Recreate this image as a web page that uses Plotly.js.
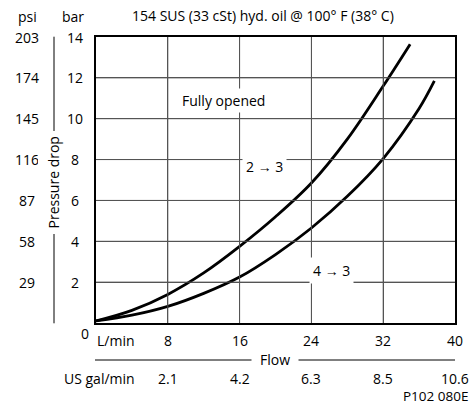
<!DOCTYPE html>
<html>
<head>
<meta charset="utf-8">
<script src="https://cdn.plot.ly/plotly-3.0.1.min.js"></script>
<style>html,body{margin:0;padding:0;background:#fff;}#chart{width:472px;height:404px;}</style>
</head>
<body>
<div id="chart"></div>
<script>
// Flow (L/min) and pressure drop (bar)
const flow23 = [0, 4, 8, 12, 16, 20, 24, 28, 32, 35];
const dp23   = [0.1, 0.62, 1.4, 2.45, 3.75, 5.2, 6.85, 9.0, 11.6, 13.65];
const flow43 = [0, 4, 8, 12, 16, 20, 24, 28, 32, 36, 37.7];
const dp43   = [0.1, 0.38, 0.81, 1.45, 2.25, 3.35, 4.65, 6.2, 8.05, 10.5, 11.85];

const xTicks = [8, 16, 24, 32, 40];
const xTickLabels = ['8', '16', '24', '32', '40'];
const galLabels = ['2.1', '4.2', '6.3', '8.5', '10.6'];
const barTicks = [2, 4, 6, 8, 10, 12, 14];
const psiLabels = ['29', '58', '87', '116', '145', '174', '203'];
const xRange = [0, 40];
const yRange = [0, 14];

const FONT = '"Open Sans", "Noto Sans", sans-serif';
const FS = 14;
const W = 472, H = 404;
const L = 96, R = 455, T = 37, B = 323;
const px = v => (v - L) / (R - L);   // pixel x -> paper x
const py = v => (B - v) / (B - T);   // pixel y -> paper y

const line = {color: '#000', width: 2.8, shape: 'spline', smoothing: 1};
const traces = [
  {x: flow23, y: dp23, mode: 'lines', line: line, hoverinfo: 'skip'},
  {x: flow43, y: dp43, mode: 'lines', line: line, hoverinfo: 'skip'}
];

const ann = [];
const txt = (text, x, y, xref, yref, extra) => Object.assign({
  text: text, x: x, y: y, xref: xref, yref: yref, showarrow: false,
  font: {family: FONT, size: FS, color: '#000'}, xanchor: 'center', yanchor: 'middle'
}, extra || {});

ann.push(txt('154 SUS (33 cSt) hyd. oil @ 100° F (38° C)', px(263), py(15), 'paper', 'paper'));
ann.push(txt('psi', px(27), py(17), 'paper', 'paper'));
ann.push(txt('bar', px(73), py(17), 'paper', 'paper'));
psiLabels.forEach((s, i) => ann.push(txt(s, px(27), barTicks[i], 'paper', 'y')));
barTicks.forEach(v => ann.push(txt(String(v), px(75), v, 'paper', 'y')));
ann.push(txt('0', px(84.5), py(333), 'paper', 'paper'));
ann.push(txt('L/min', px(137), py(340), 'paper', 'paper', {xanchor: 'right'}));
xTicks.forEach((v, i) => ann.push(txt(xTickLabels[i], v, py(340), 'x', 'paper')));
ann.push(txt('US gal/min', px(137), py(378), 'paper', 'paper', {xanchor: 'right'}));
galLabels.forEach((s, i) => ann.push(txt(s, xTicks[i], py(378), 'x', 'paper')));
ann.push(txt('Flow', px(275), py(359.5), 'paper', 'paper', {bgcolor: '#fff', borderpad: 8}));
ann.push(txt('P102 080E', px(435), py(396), 'paper', 'paper', {font: {family: FONT, size: 13.5, color: '#000'}}));
ann.push(txt('Pressure drop', px(53.5), py(183), 'paper', 'paper', {textangle: -90, bgcolor: '#fff', borderpad: 5}));
ann.push(txt('Fully opened', 14.15, 10.9, 'x', 'y', {bgcolor: '#fff', borderpad: 2}));
ann.push(txt('2 → 3', 18.8, 7.64, 'x', 'y', {bgcolor: '#fff', borderpad: 3}));
ann.push(txt('4 → 3', 26.2, 2.55, 'x', 'y', {bgcolor: '#fff', borderpad: 3}));

const GRID = {color: '#555', width: 1};
const shapes = [
  {type: 'line', xref: 'paper', yref: 'paper', x0: px(54), x1: px(54), y0: py(36.7), y1: py(323.3), line: {color: '#000', width: 1}},
  {type: 'line', xref: 'paper', yref: 'paper', x0: px(95), x1: px(455), y0: py(360), y1: py(360), line: {color: '#000', width: 1}}
];
// grid lines at the tick values
xTicks.slice(0, -1).forEach(v => shapes.push({type: 'line', xref: 'x', yref: 'y', x0: v, x1: v, y0: yRange[0], y1: yRange[1], line: GRID}));
barTicks.slice(0, -1).forEach(v => shapes.push({type: 'line', xref: 'x', yref: 'y', x0: xRange[0], x1: xRange[1], y0: v, y1: v, line: GRID}));

const layout = {
  width: W, height: H,
  margin: {l: L, r: W - R, t: T, b: H - B, autoexpand: false},
  paper_bgcolor: '#fff', plot_bgcolor: '#fff',
  showlegend: false,
  font: {family: FONT, size: FS, color: '#000'},
  xaxis: {
    range: xRange, tickmode: 'array', tickvals: xTicks, showticklabels: false, ticks: '',
    showgrid: true, gridcolor: '#555', zeroline: false,
    showline: true, mirror: true, linecolor: '#000', linewidth: 1.6
  },
  yaxis: {
    range: yRange, tickmode: 'array', tickvals: barTicks, showticklabels: false, ticks: '',
    showgrid: true, gridcolor: '#555', zeroline: false,
    showline: true, mirror: true, linecolor: '#000', linewidth: 1.6
  },
  annotations: ann,
  shapes: shapes
};

Plotly.newPlot('chart', traces, layout, {staticPlot: true, displayModeBar: false});
</script>
</body>
</html>
